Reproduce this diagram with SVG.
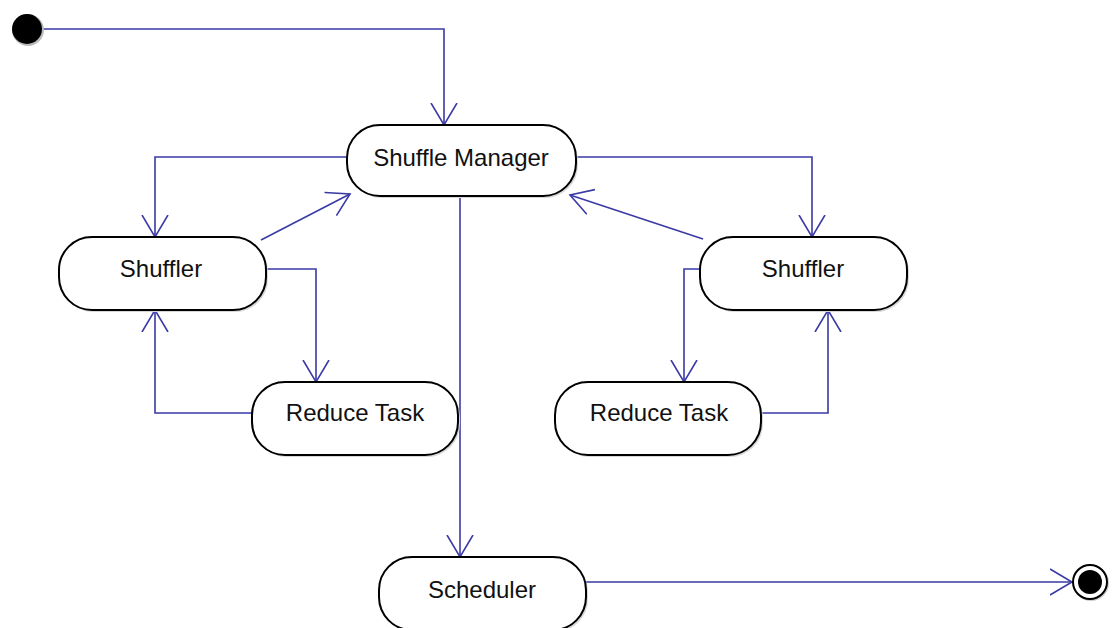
<svg xmlns="http://www.w3.org/2000/svg" width="1112" height="628" viewBox="0 0 1112 628">
<style>
.node rect.s{fill:#d8d8d8;stroke:none}
.node rect.b{fill:#ffffff;stroke:#000000;stroke-width:2}
.node text{font-family:"Liberation Sans",Arial,sans-serif;font-size:24px;fill:#111111;text-anchor:middle;dominant-baseline:central}
.conn path{fill:none;stroke:#3a3aa6;stroke-width:1.6}
</style>
<defs>
<marker id="arr" markerWidth="30" markerHeight="30" refX="22" refY="13" orient="auto" markerUnits="userSpaceOnUse" viewBox="0 0 30 26">
<path d="M0,0 L22,13 L0,26" fill="none" stroke="#3a3aa6" stroke-width="1.6"/>
</marker>
</defs>
<rect width="1112" height="628" fill="#ffffff"/>
<g id="connectors" class="conn">
<path d="M43,29 H444 V125" marker-end="url(#arr)"/>
<path d="M347,157 H155 V237" marker-end="url(#arr)"/>
<path d="M576,157 H812 V237" marker-end="url(#arr)"/>
<path d="M261,240 L350,194" marker-end="url(#arr)"/>
<path d="M703,239 L570,195" marker-end="url(#arr)"/>
<path d="M265,269 H316 V382" marker-end="url(#arr)"/>
<path d="M252,413 H155 V310" marker-end="url(#arr)"/>
<path d="M700,269 H684 V382" marker-end="url(#arr)"/>
<path d="M760,413 H828 V310" marker-end="url(#arr)"/>
<path d="M460,196 V557" marker-end="url(#arr)"/>
<path d="M585,582 H1072" marker-end="url(#arr)"/>
</g>
<g id="start">
<circle cx="28" cy="30" r="16" fill="#bbbbbb"/>
<circle cx="27" cy="29" r="15" fill="#000000"/>
</g>
<g id="shuffle-manager" class="node">
<rect class="s" x="349" y="127" width="229" height="71" rx="33"/>
<rect class="b" x="347" y="125" width="229" height="71" rx="33"/>
<text x="461" y="157">Shuffle Manager</text>
</g>
<g id="shuffler-left" class="node">
<rect class="s" x="61" y="239" width="207" height="73" rx="33"/>
<rect class="b" x="59" y="237" width="207" height="73" rx="33"/>
<text x="161" y="268">Shuffler</text>
</g>
<g id="shuffler-right" class="node">
<rect class="s" x="702" y="239" width="207" height="73" rx="33"/>
<rect class="b" x="700" y="237" width="207" height="73" rx="33"/>
<text x="803" y="268">Shuffler</text>
</g>
<g id="reduce-left" class="node">
<rect class="s" x="254" y="384" width="206" height="73" rx="33"/>
<rect class="b" x="252" y="382" width="206" height="73" rx="33"/>
<text x="355" y="412">Reduce Task</text>
</g>
<g id="reduce-right" class="node">
<rect class="s" x="557" y="384" width="206" height="73" rx="33"/>
<rect class="b" x="555" y="382" width="206" height="73" rx="33"/>
<text x="659" y="412">Reduce Task</text>
</g>
<g id="scheduler" class="node">
<rect class="s" x="381" y="559" width="207" height="73" rx="33"/>
<rect class="b" x="379" y="557" width="207" height="73" rx="33"/>
<text x="482" y="589">Scheduler</text>
</g>
<g id="end">
<circle cx="1091" cy="583" r="18" fill="#cccccc"/>
<circle cx="1090" cy="582" r="17" fill="#ffffff" stroke="#000000" stroke-width="2"/>
<circle cx="1090" cy="582" r="12" fill="#000000"/>
</g>
</svg>
